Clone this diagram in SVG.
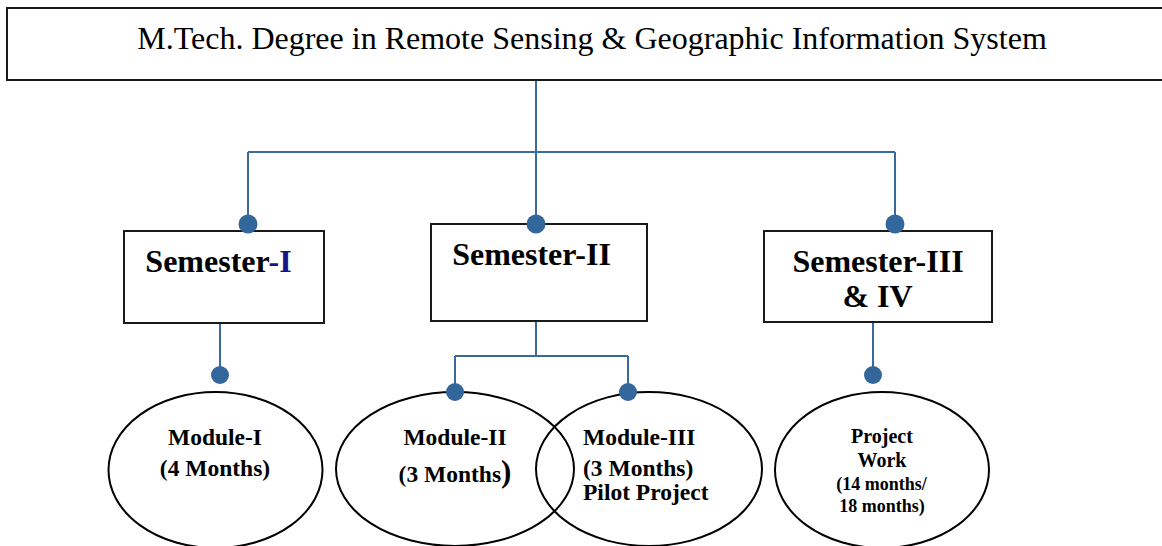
<svg xmlns="http://www.w3.org/2000/svg" width="1162" height="546" viewBox="0 0 1162 546">
<style>
  .box { fill: #ffffff; stroke: #1a1a1a; stroke-width: 2; }
  .ell { fill: none; stroke: #000000; stroke-width: 2; }
  .con { fill: none; stroke: #3a69a0; stroke-width: 2; }
  .dot { fill: #33669a; stroke: none; }
  .title { font-family: "Liberation Serif", "Times New Roman", serif; font-size: 32px; fill: #000; }
  .sem { font-family: "Liberation Serif", "Times New Roman", serif; font-size: 32px; font-weight: bold; fill: #000; }
  .mod { font-family: "Liberation Serif", "Times New Roman", serif; font-size: 23.5px; font-weight: bold; fill: #000; }
  .pw { font-family: "Liberation Serif", "Times New Roman", serif; font-size: 20px; font-weight: bold; fill: #000; }
  .pws { font-family: "Liberation Serif", "Times New Roman", serif; font-size: 18px; font-weight: bold; fill: #000; }
</style>
<rect x="0" y="0" width="1162" height="546" fill="#ffffff"/>

<g id="connectors">
  <path class="con" d="M536 80 V224 M248 152 H895 M248 152 V224 M895 152 V224"/>
  <path class="con" d="M220 322 V375"/>
  <path class="con" d="M536 321 V356 M455 356 H628 M455 356 V392 M628 356 V392" stroke-width="1.6"/>
  <path class="con" d="M873 322 V375"/>
</g>

<g id="title">
  <rect class="box" x="7" y="8" width="1162" height="72"/>
  <text class="title" x="592" y="49" text-anchor="middle">M.Tech. Degree in Remote Sensing &amp; Geographic Information System</text>
</g>

<g id="semester-1">
  <rect class="box" x="124" y="231" width="200" height="92" stroke="#444"/>
  <text class="sem" x="218.5" y="272" text-anchor="middle">Semester<tspan fill="#15158a">-I</tspan></text>
</g>

<g id="semester-2">
  <rect class="box" x="431" y="224" width="216" height="97"/>
  <text class="sem" x="531.5" y="265" text-anchor="middle">Semester-II</text>
</g>

<g id="semester-3-4">
  <rect class="box" x="764" y="231" width="228" height="91"/>
  <text class="sem" x="878" y="272" text-anchor="middle">Semester-III</text>
  <text class="sem" x="877.5" y="307" text-anchor="middle">&amp; IV</text>
</g>

<g id="module-1">
  <ellipse class="ell" cx="215.5" cy="470" rx="107" ry="78"/>
  <text class="mod" x="215" y="445" text-anchor="middle">Module-I</text>
  <text class="mod" x="215" y="476" text-anchor="middle">(4 Months)</text>
</g>

<g id="module-2">
  <ellipse class="ell" cx="455" cy="469" rx="119" ry="77"/>
  <text class="mod" x="455" y="445" text-anchor="middle">Module-II</text>
  <text class="mod" x="455" y="482" text-anchor="middle">(3 Months<tspan font-size="31px">)</tspan></text>
</g>

<g id="module-3">
  <ellipse class="ell" cx="649" cy="469" rx="113" ry="77"/>
  <text class="mod" x="583" y="445">Module-III</text>
  <text class="mod" x="583" y="476">(3 Months)</text>
  <text class="mod" x="583" y="500">Pilot Project</text>
</g>

<g id="project-work">
  <ellipse class="ell" cx="882" cy="470" rx="107" ry="78"/>
  <text class="pw" x="882" y="443" text-anchor="middle">Project</text>
  <text class="pw" x="882" y="467" text-anchor="middle">Work</text>
  <text class="pws" x="881.5" y="490" text-anchor="middle">(14 months/</text>
  <text class="pws" x="882" y="512" text-anchor="middle">18 months)</text>
</g>

<g id="dots">
  <circle class="dot" cx="248" cy="224" r="9.5"/>
  <circle class="dot" cx="536" cy="224" r="9.5"/>
  <circle class="dot" cx="895" cy="224" r="9.5"/>
  <circle class="dot" cx="220" cy="375" r="9"/>
  <circle class="dot" cx="455" cy="392" r="9"/>
  <circle class="dot" cx="628" cy="392" r="9"/>
  <circle class="dot" cx="873" cy="375" r="9"/>
</g>
</svg>
